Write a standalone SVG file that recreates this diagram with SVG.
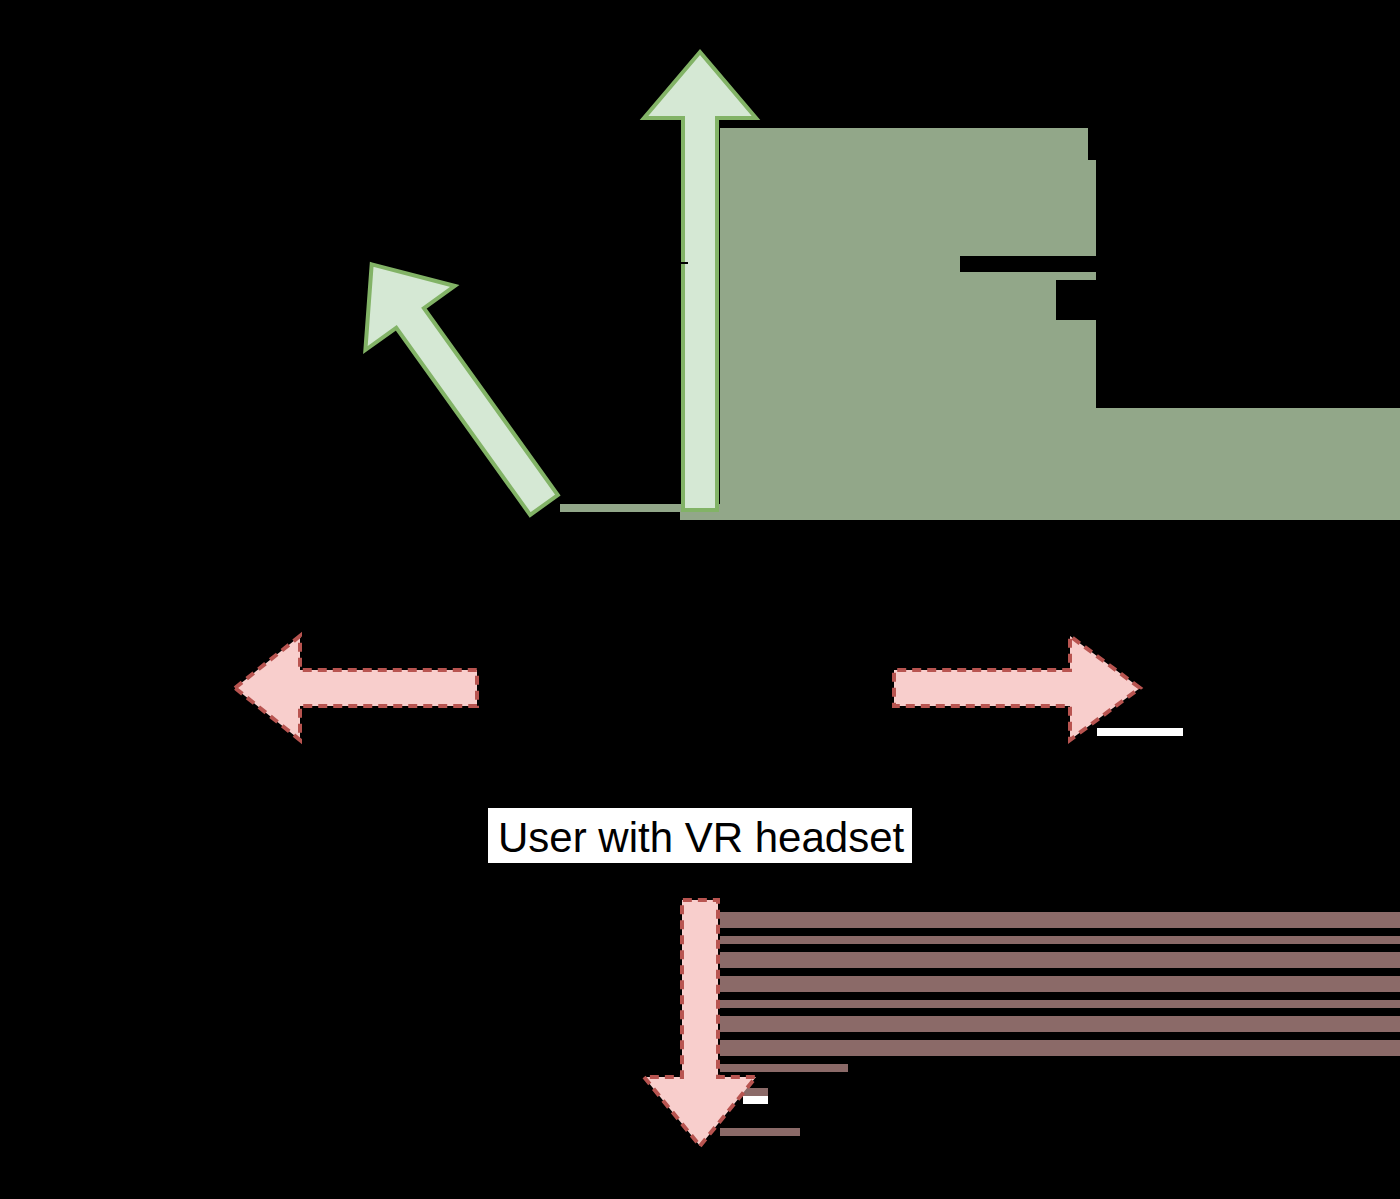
<svg xmlns="http://www.w3.org/2000/svg" width="1400" height="1199" viewBox="0 0 1400 1199">
  <style>
    .green { fill: #d5e8d4; stroke: #82b366; stroke-width: 4; stroke-linejoin: miter; }
    .red { fill: #f8cecc; stroke: #b85450; stroke-width: 4; stroke-dasharray: 9 6; stroke-linejoin: miter; }
    .hl-green { fill: #92a789; }
    .hl-red { fill: #8b6a68; }
    .label { font-family: "Liberation Sans", Arial, sans-serif; font-size: 42px; fill: #000000; }
  </style>
  <rect id="background" x="0" y="0" width="1400" height="1199" fill="#000000"/>

  <g id="highlight-top">
    <path class="hl-green" d="M720,128 H1088 V160 H1096 V408 H1400 V520 H680 V512 H560 V504 H720 Z"/>
    <rect x="960" y="256" width="136" height="16" fill="#000000"/>
    <rect x="1056" y="280" width="40" height="40" fill="#000000"/>
  </g>

  <g id="highlight-bottom">
    <rect class="hl-red" x="720" y="912" width="680" height="16"/>
    <rect class="hl-red" x="720" y="936" width="680" height="8"/>
    <rect class="hl-red" x="720" y="952" width="680" height="16"/>
    <rect class="hl-red" x="720" y="976" width="680" height="16"/>
    <rect class="hl-red" x="720" y="1000" width="680" height="8"/>
    <rect class="hl-red" x="720" y="1016" width="680" height="16"/>
    <rect class="hl-red" x="720" y="1040" width="680" height="16"/>
    <rect class="hl-red" x="720" y="1064" width="128" height="8"/>
    <rect class="hl-red" x="743" y="1088" width="25" height="8"/>
    <rect x="743" y="1096" width="25" height="8" fill="#ffffff"/>
    <rect class="hl-red" x="720" y="1128" width="80" height="8"/>
  </g>

  <g id="connectors"></g>

  <g id="arrow-up">
    <polygon class="green" points="700,52 756,118 717,118 717,510 683,510 683,118 644,118"/>
    <rect x="680" y="262" width="8" height="2" fill="#000000"/>
  </g>

  <g id="arrow-diagonal">
    <polygon class="green" transform="translate(544,505) rotate(-35.6)" points="0,-296 55,-230 17,-230 17,0 -17,0 -17,-230 -55,-230"/>
  </g>

  <g id="arrow-left">
    <polygon class="red" points="235,688 300,636 300,670 477,670 477,706 300,706 300,740"/>
  </g>

  <g id="arrow-right">
    <polygon class="red" points="1140,688 1070,636 1070,670 894,670 894,706 1070,706 1070,740"/>
    <rect x="1097" y="728" width="86" height="8" fill="#ffffff"/>
  </g>

  <g id="arrow-down">
    <polygon class="red" points="700,1146 756,1077 718,1077 718,900 682,900 682,1077 644,1077"/>
  </g>

  <g id="user-label">
    <rect x="488" y="808" width="424" height="55" fill="#ffffff"/>
    <text class="label" x="498" y="852">User with VR headset</text>
  </g>
</svg>
